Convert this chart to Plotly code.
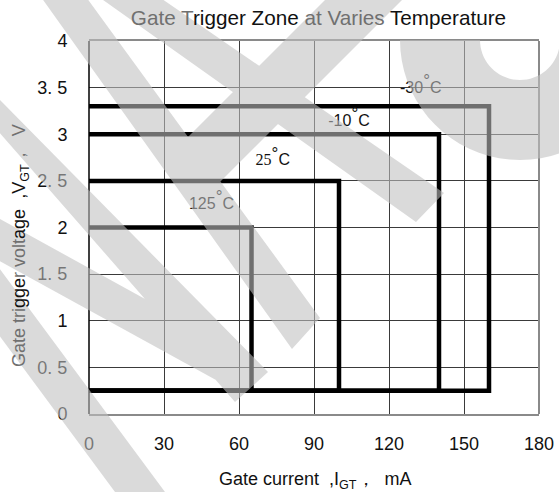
import math
import plotly.graph_objects as go

# ---------------- data ----------------
temps = ["125°C", "25°C", "-10°C", "-30°C"]
igt_max_ma = [65, 100, 140, 160]          # right edge of each trigger zone (mA)
vgt_max_v = [2.0, 2.5, 3.0, 3.3]          # top edge of each trigger zone (V)
vgt_min_v = 0.25                          # common bottom edge (V)

x_tickvals = [0, 30, 60, 90, 120, 150, 180]
y_tickvals = [0, 0.5, 1, 1.5, 2, 2.5, 3, 3.5, 4]
y_ticktext = ["0", "0. 5", "1", "1. 5", "2", "2. 5", "3", "3. 5", "4"]

DEG = "<sup><span style='font-size:17px'>°</span></sup>"
label_html = [
    "125" + DEG + "C",
    "<span style='font-family:Liberation Serif'>25</span>" + DEG + "C",
    "-10" + DEG + "C",
    "-30" + DEG + "C",
]
label_x = [49, 73.5, 104, 132.7]
label_y = [2.24, 2.71, 3.13, 3.49]

# ---------------- layout geometry ----------------
W, H = 559, 492
ML, MR, MT, MB = 89, 20, 41, 78
PW, PH = W - ML - MR, H - MT - MB
FONT = "Liberation Sans, Arial, sans-serif"
GRAY_TXT = "#707070"

fig = go.Figure()

for t, imax, vmax in zip(temps, igt_max_ma, vgt_max_v):
    fig.add_trace(go.Scatter(
        x=[0, imax, imax, 0],
        y=[vmax, vmax, vgt_min_v, vgt_min_v],
        mode="lines", name=t,
        line=dict(color="black", width=4.5),
        showlegend=False, hoverinfo="skip",
    ))

fig.add_trace(go.Scatter(
    x=label_x, y=label_y, mode="text", text=label_html,
    textfont=dict(family=FONT, size=16, color="#111"),
    showlegend=False, hoverinfo="skip", cliponaxis=False,
))

# ---------------- watermark (decorative, pixel polygons) ----------------
def to_paper(pts):
    return [((x - ML) / PW, (MT + PH - y) / PH) for x, y in pts]

def signed_area(p):
    return sum(p[i][0] * p[(i + 1) % len(p)][1] - p[(i + 1) % len(p)][0] * p[i][1]
               for i in range(len(p))) / 2

wm_polys = [
    [(36, -10), (81, -10), (320, 318), (292, 349)],          # long stroke
    [(89, -10), (149, -10), (444, 193), (416, 222)],         # shallow stroke
    [(335, -10), (412, -10), (202, 200), (175, 150)],        # rising stroke
    [(-10, 89.8), (268, 372), (235, 402), (-10, 121.8)],     # left stroke
    [(-10, 213.5), (180, 318.25), (216, 380), (-10, 255.75)],
    [(-10, 255.75), (172.4, 502), (122.4, 502), (-10, 323)],
]
arc = []
cx, cy, r_in, r_out = 520, 40, 40, 120
for k in range(0, 37):
    a = math.radians(k * 5)
    arc.append((cx + r_out * math.cos(a), cy + r_out * math.sin(a)))
for k in range(36, -1, -1):
    a = math.radians(k * 5)
    arc.append((cx + r_in * math.cos(a), cy + r_in * math.sin(a)))
wm_polys.append(arc)

path = ""
for poly in wm_polys:
    p = to_paper(poly)
    if signed_area(p) < 0:
        p = p[::-1]
    path += "M" + " L".join(f"{x:.5f},{y:.5f}" for x, y in p) + " Z "

shapes = [
    dict(type="line", xref="paper", yref="paper", x0=0, x1=0, y0=0, y1=1,
         line=dict(color="black", width=1.5), layer="above"),
    dict(type="line", xref="paper", yref="paper", x0=1, x1=1, y0=0, y1=1,
         line=dict(color="#8a8a8a", width=2), layer="above"),
    dict(type="path", xref="paper", yref="paper", path=path.strip(),
         fillcolor="rgba(191,191,191,0.58)", line=dict(width=0),
         layer="above", fillrule="nonzero"),
]

title_html = (f"<span style='color:{GRAY_TXT}'>Gate T</span>rigger Zone "
              f"<span style='color:{GRAY_TXT}'>at Varies</span> Temperature")
ytitle_html = (f"<span style='color:{GRAY_TXT}'>Gate tri</span>gge"
               f"<span style='color:{GRAY_TXT}'>r volt</span>age  ,V<sub>GT</sub>"
               f"<span style='color:{GRAY_TXT}'>，  V</span>")
xtitle_html = "Gate current  ,I<sub>GT</sub>，  mA"

fig.update_layout(
    width=W, height=H,
    margin=dict(l=ML, r=MR, t=MT, b=MB, pad=0, autoexpand=False),
    paper_bgcolor="white", plot_bgcolor="white",
    font=dict(family=FONT, size=18, color="#111"),
    title=dict(text=title_html, x=(318.5 - ML) / PW, xref="paper", xanchor="center",
               y=1 - 18 / H, yref="container", yanchor="middle",
               font=dict(family=FONT, size=20.7, color="#111")),
    xaxis=dict(range=[0, 180], tickvals=x_tickvals, showgrid=True,
               gridcolor="#3a3a3a", gridwidth=1, zeroline=False,
               showline=True, mirror=True, linecolor="#8a8a8a", linewidth=2,
               ticks="outside", ticklen=12, tickcolor="rgba(0,0,0,0)",
               automargin=False,
               tickfont=dict(family=FONT, size=18, color="#111")),
    yaxis=dict(range=[0, 4], tickvals=y_tickvals, ticktext=y_ticktext, showgrid=True,
               gridcolor="#3a3a3a", gridwidth=1, zeroline=False, showline=False,
               ticks="outside", ticklen=17, tickcolor="rgba(0,0,0,0)",
               automargin=False,
               tickfont=dict(family=FONT, size=18, color="#111")),
    shapes=shapes,
    annotations=[
        dict(text=xtitle_html, xref="paper", yref="paper", x=(315.5 - ML) / PW,
             y=(MT + PH - 480) / PH, xanchor="center", yanchor="middle",
             showarrow=False, font=dict(family=FONT, size=18, color="#111")),
        dict(text=ytitle_html, xref="paper", yref="paper", x=(21 - ML) / PW,
             y=(MT + PH - 246) / PH, xanchor="center", yanchor="middle",
             textangle=-90, showarrow=False,
             font=dict(family=FONT, size=18, color="#111")),
    ],
)

fig.write_html("out.html",
               config={"displayModeBar": False},
               post_script="document.body.style.margin='0';"
                           "document.body.style.overflow='hidden';")
